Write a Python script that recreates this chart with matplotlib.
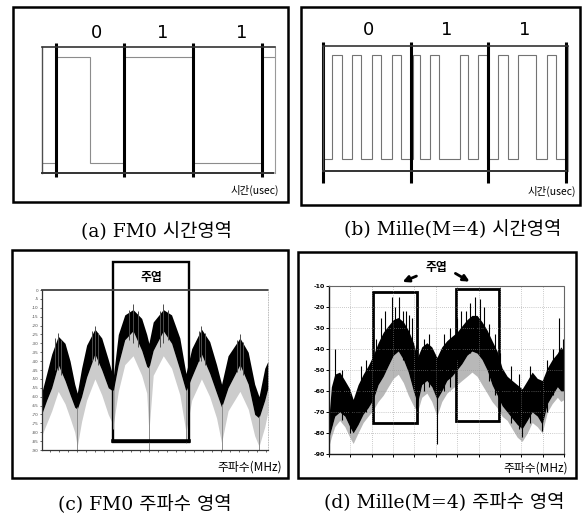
import numpy as np
import matplotlib.pyplot as plt
from matplotlib.patches import Rectangle, FancyArrowPatch

plt.rcParams['font.family'] = ['DejaVu Sans', 'Noto Sans CJK KR']

W, H = 586, 515

# ---------------- data ----------------
bits = ['0', '1', '1']
captions = ['(a) FM0 시간영역', '(b) Mille(M=4) 시간영역',
            '(c) FM0 주파수 영역', '(d) Mille(M=4) 주파수 영역']

# (a) FM0 waveform, time in bit periods
fm0_edges = [-0.2, 0.0, 0.5, 1.0, 2.0, 3.0, 3.19]
fm0_level = [0, 1, 0, 1, 0, 1]
fm0_bitline = [0, 1, 2, 3]

# (b) Miller M=4 waveform, time in bit periods
mil_edges = [0.0, 0.111, 0.235, 0.358, 0.469, 0.605, 0.716, 0.852, 0.963,
             1.111, 1.198, 1.321, 1.432, 1.691, 1.790, 1.914, 2.025,
             2.160, 2.284, 2.407, 2.630, 2.765, 2.877, 3.0]
mil_level = [0, 1, 0, 1, 0, 1, 0, 1, 0, 1, 0, 1, 0, 1, 0, 1, 0, 1, 0, 1, 0, 1, 0]
mil_bitline = [0, 1.086, 2.037, 3.0]

# (c) FM0 spectrum (dB), x in null spacings
c_x = [-2.98, -2.84, -2.70, -2.52, -2.33, -2.19, -2.06, -1.99, -1.87, -1.73,
       -1.50, -1.31, -1.13, -0.99, -0.85, -0.67, -0.44, -0.20, -0.06, 0.0,
       0.12, 0.40, 0.63, 0.86, 1.03, 1.19, 1.46, 1.69, 1.88, 2.02,
       2.20, 2.53, 2.76, 2.94, 3.06, 3.22, 3.31]
c_top = [-58, -47, -36, -26, -30, -40, -53, -58, -44, -31,
         -22, -27, -39, -49, -25, -14, -11, -16, -25, -30,
         -18, -11, -14, -27, -47, -33, -22, -29, -42, -53,
         -37, -27, -35, -53, -60, -44, -40]
c_bot = [-70, -62, -55, -42, -51, -59, -66, -67, -60, -49,
         -36, -45, -55, -57, -42, -28, -23, -34, -43, -44,
         -34, -23, -30, -45, -57, -49, -36, -47, -58, -66,
         -55, -42, -53, -70, -72, -62, -55]
c_floor = [-82, -75, -68, -57, -64, -72, -80, -88, -74, -62,
           -50, -59, -70, -76, -57, -42, -37, -48, -58, -80,
           -48, -37, -44, -59, -80, -62, -50, -60, -72, -86,
           -68, -57, -67, -82, -88, -77, -68]
c_spike_x = [-2.60, -2.52, -2.45, -1.58, -1.50, -1.42, -0.55, -0.44, -0.30,
             0.30, 0.40, 0.52, 1.38, 1.46, 1.55, 2.45, 2.53, 2.62]
c_spike_top = [-27, -24, -28, -23, -20, -24, -11, -8, -12,
               -12, -8, -11, -23, -20, -24, -28, -25, -29]
c_spike_bot = [-45, -45, -48, -40, -40, -42, -28, -30, -32,
               -32, -30, -28, -40, -40, -42, -46, -45, -48]
c_null_x = [-1.99, -0.99, 0.0, 1.03, 2.02, 3.06]
c_null_top = [-66, -56, -43, -56, -64, -71]
c_null_bot = [-90, -78, -90, -86, -90, -90]

# (d) Miller spectrum (dB), x in tick units
d_x = [0.0, 0.11, 0.27, 0.5, 0.74, 0.97, 1.13, 1.36, 1.6, 1.83,
       2.07, 2.3, 2.54, 2.77, 3.01, 3.24, 3.48, 3.71, 3.95, 4.14,
       4.34, 4.58, 4.81, 5.05, 5.28, 5.52, 5.75, 5.99, 6.22, 6.46,
       6.69, 6.93, 7.16, 7.4, 7.63, 7.87, 8.1, 8.34, 8.57, 8.81,
       9.04, 9.28, 9.51, 9.75, 9.98, 10.22, 10.45, 10.69, 10.85, 11.0]
d_top = [-72, -58, -52, -51, -55, -59, -64, -57, -52, -48,
         -43, -37, -32, -29, -26, -25, -27, -31, -37, -44,
         -39, -37, -39, -44, -39, -36, -34, -32, -29, -26,
         -24, -24, -27, -31, -36, -41, -49, -53, -55, -57,
         -59, -55, -51, -54, -55, -49, -45, -42, -39, -41]
d_bot = [-82, -78, -72, -70, -72, -77, -80, -76, -71, -68,
         -64, -57, -53, -48, -43, -41, -45, -51, -60, -66,
         -57, -55, -58, -64, -60, -55, -53, -50, -47, -43,
         -41, -42, -45, -50, -57, -62, -67, -70, -73, -76,
         -78, -74, -70, -72, -76, -66, -62, -58, -60, -60]
d_floor = [-86, -82, -77, -74, -77, -82, -85, -80, -75, -72,
           -69, -65, -62, -58, -54, -52, -56, -62, -67, -70,
           -63, -61, -65, -72, -65, -61, -59, -57, -55, -53,
           -51, -53, -57, -61, -65, -68, -72, -74, -78, -82,
           -84, -80, -75, -77, -80, -70, -66, -63, -65, -64]
d_spike_x = [0.27, 0.6, 1.0, 1.23, 1.5, 1.75, 2.2, 2.45, 2.6, 2.93, 3.1,
             3.29, 3.45, 3.6, 3.75, 3.87, 4.05, 4.45, 4.7, 5.05, 5.4, 5.65,
             6.0, 6.2, 6.4, 6.6, 6.85, 7.08, 7.24, 7.5, 7.75, 8.0, 8.5,
             8.9, 9.04, 9.4, 9.98, 10.2, 10.5, 10.77, 10.95]
d_spike_top = [-40, -50, -62, -64, -48, -45, -35, -25, -22, -15, -20,
               -15, -22, -22, -24, -25, -38, -35, -33, -45, -33, -30,
               -25, -22, -22, -18, -15, -16, -20, -28, -33, -42, -48,
               -52, -60, -48, -56, -45, -40, -25, -35]
d_spike_bot = [-62, -74, -80, -78, -72, -70, -58, -50, -45, -36, -42,
               -36, -45, -42, -50, -45, -68, -60, -58, -85, -60, -58,
               -45, -45, -42, -42, -35, -35, -38, -55, -62, -70, -75,
               -78, -82, -75, -79, -70, -62, -48, -58]

# ---------------- helpers (pixel coords, origin top-left) ----------------
fig = plt.figure(figsize=(W / 100, H / 100), dpi=100)


def fx(x):
    return x / W


def fy(y):
    return 1 - y / H


def ax_at(x0, y0, x1, y1):
    return fig.add_axes([x0 / W, 1 - y1 / H, (x1 - x0) / W, (y1 - y0) / H])


def frame(x0, y0, x1, y1, lw=1.8):
    fig.add_artist(Rectangle((fx(x0), fy(y1)), (x1 - x0) / W, (y1 - y0) / H,
                             transform=fig.transFigure, fill=False,
                             lw=lw, ec='black'))


kr = ['Noto Sans CJK KR', 'DejaVu Sans']
cap_font = ['DejaVu Serif', 'Noto Sans CJK KR']

# ---------------- (a) FM0 time domain ----------------
frame(13, 7, 288, 202)
axa = ax_at(42, 47, 275, 173)
axa.stairs(fm0_level, fm0_edges, baseline=None, color='0.55', lw=0.8)
for b in fm0_bitline:
    axa.plot([b, b], [-0.13, 1.13], color='black', lw=2.2, clip_on=False,
             solid_capstyle='butt')
axa.set_xlim(-0.2, 3.19)
axa.set_ylim(-0.094, 1.094)
for x, lab in zip([97, 163, 242], bits):
    fig.text(fx(x), fy(33), lab, ha='center', va='center', fontsize=13)
fig.text(fx(279), fy(190), '시간(usec)', ha='right', va='center',
         fontsize=7.5, family=kr)

# ---------------- (b) Miller time domain ----------------
frame(301, 7, 580, 205)
axb = ax_at(323, 46, 568, 171)
axb.stairs(mil_level, mil_edges, baseline=None, color='0.45', lw=0.8)
for b in mil_bitline:
    axb.plot([b, b], [-0.23, 1.125], color='black', lw=2.2, clip_on=False,
             solid_capstyle='butt')
axb.set_xlim(0, 3.025)
axb.set_ylim(-0.115, 1.087)
for x, lab in zip([368, 447, 525], bits):
    fig.text(fx(x), fy(30), lab, ha='center', va='center', fontsize=13)
fig.text(fx(576), fy(191), '시간(usec)', ha='right', va='center',
         fontsize=7.5, family=kr)

for ax in (axa, axb):
    ax.set_xticks([])
    ax.set_yticks([])
    ax.spines['top'].set(color='0.2', lw=1.2)
    ax.spines['bottom'].set(color='0.2', lw=1.4, linestyle=(0, (1, 1)))
    ax.spines['left'].set(color='0.3', lw=1.0, linestyle=(0, (1, 1)))
    ax.spines['right'].set(color='0.6', lw=0.8, linestyle=(0, (1, 1)))

# ---------------- (c) FM0 spectrum ----------------
frame(12, 250, 288, 478)
axc = ax_at(42, 290, 268, 450)
axc.vlines(c_null_x, c_null_bot, c_null_top, color='0.55', lw=0.7)
axc.fill_between(c_x, c_floor, c_bot, color='0.8', lw=0)
axc.fill_between(c_x, c_bot, c_top, color='black', lw=0)
axc.vlines(c_spike_x, c_spike_bot, c_spike_top, color='0.3', lw=0.7)
axc.set_xlim(-2.97, 3.31)
axc.set_ylim(-90, 0)
yt = np.arange(0, -91, -5)
axc.set_yticks(yt)
axc.set_yticklabels([str(v) for v in yt], fontsize=3, color='0.35')
axc.set_xticks(np.arange(-2.75, 3.31, 0.25))
axc.set_xticklabels([])
axc.tick_params(length=1.5, width=0.6, pad=1, colors='0.3')
axc.spines['top'].set(color='0.25', lw=1.3, linestyle=(0, (2, 1)))
axc.spines['right'].set(color='0.7', lw=0.6, linestyle=(0, (1, 2)))
axc.spines['left'].set(color='0.2', lw=0.9)
axc.spines['bottom'].set(color='0.2', lw=0.9)
# main lobe box
axc.add_patch(Rectangle((-1.0, -85.5), 2.11, 101.25, fill=False,
                        lw=1.7, ec='black', clip_on=False))
axc.plot([-1.0, 1.11], [-84.8, -84.8], color='black', lw=2.6, clip_on=False)
fig.text(fx(151), fy(278), '주엽', ha='center', va='center', fontsize=8.5,
         fontweight='bold', family=kr)
fig.text(fx(282), fy(467), '주파수(MHz)', ha='right', va='center',
         fontsize=8.5, family=kr)

# ---------------- (d) Miller spectrum ----------------
frame(298, 252, 576, 478)
axd = ax_at(329, 286, 564, 454)
axd.fill_between(d_x, d_floor, d_bot, color='0.72', lw=0)
axd.fill_between(d_x, d_bot, d_top, color='black', lw=0)
axd.vlines(d_spike_x, d_spike_bot, d_spike_top, color='black', lw=0.8)
axd.set_xlim(0, 11)
axd.set_ylim(-90, -10)
yt = np.arange(-10, -91, -10)
axd.set_yticks(yt)
axd.set_yticklabels([str(v) for v in yt], fontsize=4.5, fontweight='bold')
axd.set_xticks(np.arange(0, 12, 1))
axd.set_xticklabels([])
axd.tick_params(length=2, width=0.7, pad=1)
axd.grid(True, color='0.6', lw=0.5, linestyle=(0, (1, 2)))
axd.spines['top'].set(color='0.4', lw=0.8, linestyle=(0, (1, 1)))
axd.spines['right'].set(color='0.4', lw=0.8, linestyle=(0, (1, 1)))
axd.spines['left'].set(color='0.1', lw=1.0)
axd.spines['bottom'].set(color='0.1', lw=1.0)
axd.add_patch(Rectangle((2.06, -75.2), 2.06, 62.3, fill=False,
                        lw=2, ec='black', clip_on=False))
axd.add_patch(Rectangle((5.95, -74.3), 2.01, 62.9, fill=False,
                        lw=2, ec='black', clip_on=False))
fig.text(fx(436), fy(268), '주엽', ha='center', va='center', fontsize=8.5,
         fontweight='bold', family=kr)
for a, b in [((419, 275), (400, 283)), ((453, 272), (472, 283))]:
    fig.add_artist(FancyArrowPatch((fx(a[0]), fy(a[1])), (fx(b[0]), fy(b[1])),
                                   transform=fig.transFigure, arrowstyle='-|>',
                                   mutation_scale=9, lw=2, color='black'))
fig.text(fx(568), fy(468), '주파수(MHz)', ha='right', va='center',
         fontsize=8.5, family=kr)

# ---------------- captions ----------------
for (x, y), cap in zip([(156, 232), (453, 230), (145, 505), (444, 503)],
                       captions):
    fig.text(fx(x), fy(y), cap, ha='center', va='center', fontsize=13.5,
             family=cap_font)

fig.savefig('out.png', dpi=100)
